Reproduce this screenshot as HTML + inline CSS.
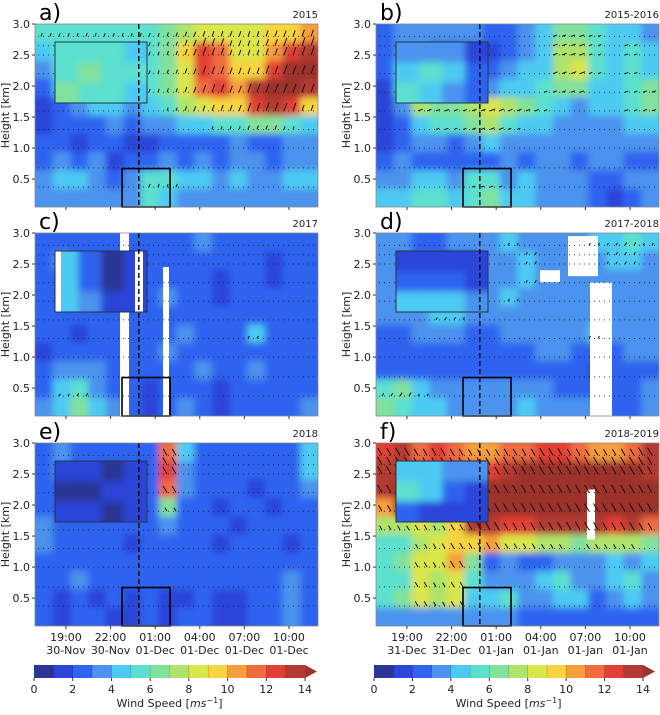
<!DOCTYPE html>
<html><head><meta charset="utf-8"><style>
body{margin:0;background:#fff;width:660px;height:710px;overflow:hidden;font-family:"Liberation Sans","DejaVu Sans",sans-serif}
svg text{font-family:"DejaVu Sans","Liberation Sans",sans-serif}
</style></head><body>
<svg id="fig" width="660" height="710" viewBox="0 0 660 710" xmlns="http://www.w3.org/2000/svg">
<defs><filter id="bl" x="-5%" y="-5%" width="110%" height="110%"><feGaussianBlur stdDeviation="3.5"/></filter></defs>
</svg>
<script>
// ---- data ----
const heightRows=[2.85,2.55,2.25,1.95,1.65,1.35,1.05,0.75,0.45,0.15];
const yTicks=[0.5,1.0,1.5,2.0,2.5,3.0];
const xTickHours=[19,22,25,28,31,34];
const xTickTimes=["19:00","22:00","01:00","04:00","07:00","10:00"];
const datesNov=["30-Nov","30-Nov","01-Dec","01-Dec","01-Dec","01-Dec"];
const datesDec=["31-Dec","31-Dec","01-Jan","01-Jan","01-Jan","01-Jan"];
const barbHeights=[2.8,2.65,2.5,2.2,1.9,1.6,1.3,1.0,0.68,0.37];
const cbTicks=[0,2,4,6,8,10,12,14];
const gridA=[[5,5,5,5,5,5,5,6,7,8,8,8,8,9,9,10],[4,5,5,5,5,5,5,6,9,12,11,8,8,10,12,13],[3,5,6,5,5,5,5,6,8,12,11,9,9,12,14,14],[2,4,5,5,5,5,5,6,8,11,12,10,13,14,14,13],[1,2,3,4,4,3,4,5,7,8,9,9,12,13,12,9],[1,2,2,2,3,2,3,3,4,4,5,5,6,6,5,4],[2,2,1,2,2,1,1,2,2,2,2,3,2,2,3,3],[2,3,2,3,1,2,2,3,2,3,2,3,3,2,3,3],[3,4,4,3,2,3,5,5,4,4,3,4,3,3,4,4],[3,3,3,3,3,3,5,4,3,3,3,3,3,3,3,3]];
const gridB=[[2,3,3,3,3,3,2,2,3,4,6,6,5,4,4,3],[2,3,3,2,2,1,1,2,3,4,7,7,5,4,5,4],[2,4,5,4,3,2,2,3,4,4,7,8,5,4,5,4],[1,4,6,5,3,3,3,4,4,5,6,6,4,4,5,6],[1,3,7,6,6,7,8,7,6,5,4,3,4,4,5,6],[1,2,4,5,5,6,7,5,4,4,3,3,3,3,4,4],[1,2,3,3,2,3,4,3,3,3,3,3,3,3,3,3],[2,3,2,2,2,2,2,3,2,3,3,2,3,3,2,2],[3,3,4,4,3,5,5,3,4,3,3,3,2,2,3,3],[4,4,5,5,4,5,6,4,4,3,3,3,2,1,2,3]];
const gridC=[[2,2,2,2,2,2,2,2,2,3,2,2,2,2,2,2],[2,3,2,2,2,1,2,2,2,2,2,2,2,1,2,2],[2,2,3,2,1,1,2,2,2,2,1,2,2,1,2,2],[2,2,2,2,2,2,2,3,2,2,1,2,2,2,2,2],[2,2,2,2,2,2,2,2,2,2,2,2,2,2,2,2],[2,2,1,2,2,2,2,2,3,2,2,2,4,2,2,2],[1,2,2,2,2,2,2,3,2,2,2,2,2,2,2,2],[2,3,3,3,2,2,2,2,2,3,2,2,3,2,2,2],[2,4,5,3,2,2,1,2,2,2,1,2,2,2,2,2],[3,4,6,4,3,2,1,2,3,2,1,2,2,2,2,3]];
const gridD=[[3,3,2,2,3,3,3,4,3,3,3,3,4,4,5,4],[3,3,2,2,2,2,3,3,4,3,3,3,3,4,4,3],[3,3,2,2,2,3,3,3,4,3,3,3,3,3,3,3],[3,3,3,3,3,3,3,4,3,3,3,3,3,3,3,3],[3,3,3,4,4,3,3,3,3,3,3,3,3,3,3,3],[2,2,3,3,3,2,2,3,3,3,3,3,4,3,3,3],[2,2,2,2,2,2,2,2,2,3,3,2,2,2,3,3],[2,2,2,2,2,2,2,2,2,2,2,2,1,2,2,2],[5,6,4,3,3,3,3,3,3,3,2,2,2,2,2,3],[6,5,4,4,3,3,3,3,4,3,3,3,3,2,2,3]];
const gridE=[[2,3,2,2,2,2,2,11,4,2,2,2,2,2,2,4],[2,3,2,2,2,2,2,12,3,2,2,2,2,2,2,4],[2,2,2,2,2,2,2,11,3,2,2,2,1,2,2,3],[2,2,2,2,2,2,2,6,2,2,1,2,2,1,2,2],[3,2,2,2,2,2,2,3,2,2,2,1,2,2,2,2],[3,2,2,2,2,1,2,2,2,2,1,2,2,2,1,2],[2,2,2,2,2,2,2,2,2,2,2,2,2,2,2,2],[2,2,3,2,2,2,2,2,2,2,2,2,2,2,3,2],[2,1,2,1,2,1,2,1,1,2,1,1,2,2,3,2],[2,1,2,2,1,1,2,1,2,2,1,1,2,2,3,2]];
const gridF=[[12,13,11,12,11,10,10,11,11,12,12,11,10,10,11,13],[13,13,12,12,12,12,12,13,14,14,14,14,14,14,14,13],[13,14,14,14,14,14,14,14,14,14,14,14,14,14,14,14],[10,14,14,14,14,14,14,14,14,14,14,14,14,14,14,14],[7,7,8,7,9,13,13,12,12,13,13,13,13,12,13,11],[5,5,7,8,9,9,10,8,8,7,7,6,7,7,7,6],[5,6,8,8,10,6,2,3,2,2,3,3,3,4,3,4],[5,5,8,7,8,5,3,3,3,4,5,3,3,4,5,3],[5,6,8,7,8,4,4,5,3,3,4,4,2,3,4,3],[3,3,3,3,3,3,3,3,2,2,2,2,2,2,2,2]];
const insetA=[[5,5,5,4],[5,6,5,5],[6,5,5,4]];
const insetB=[[3,3,3,1],[4,5,4,2],[5,4,3,2]];
const insetC=[[4,2,0,1],[4,2,0,1],[4,3,1,1]];
const insetD=[[1,1,1,1],[2,2,2,1],[4,4,4,3]];
const insetE=[[1,1,0,1],[0,0,1,1],[1,1,0,1]];
const insetF=[[4,4,3,3],[5,4,2,1],[2,1,1,1]];
const labels=["a)","b)","c)","d)","e)","f)"];
const years=["2015","2015-2016","2017","2017-2018","2018","2018-2019"];
const colors=["#2a3596","#2b45d8","#2f63f0","#4b93ee","#4ecaf2","#5be0cf","#82e19c","#aee36c","#dbe64c","#f8d43e","#f79e3c","#ef6c40","#e23f36","#b33b33","#9c3229"];
// ---- layout ----
const svg=document.getElementById('fig');const NS="http://www.w3.org/2000/svg";
function mk(tag,attrs,parent){const e=document.createElementNS(NS,tag);for(const k in attrs)e.setAttribute(k,attrs[k]);(parent||svg).appendChild(e);return e;}
const panelsX=[35,376],panelsY=[24,233,443],PW=283,PH=183;
const T0=16.92,T1=35.95,H0=0.05,H1=3.0;
const grids=[gridA,gridB,gridC,gridD,gridE,gridF];
const insets=[insetA,insetB,insetC,insetD,insetE,insetF];
const dirs=[-70,-20,-60,-60,-120,-120];
const barbMin=[5,5,4,4,5,7];
function col(v){return colors[Math.max(0,Math.min(14,Math.floor(v)))];}
for(let p=0;p<6;p++){
  const px=panelsX[p%2],py=panelsY[Math.floor(p/2)];
  const xs=t=>px+(t-T0)/(T1-T0)*PW, ys=h=>py+(H1-h)/(H1-H0)*PH;
  const g=mk('g',{});
  
  const cid='cl'+p;const cp=mk('clipPath',{id:cid},g);mk('rect',{x:px,y:py,width:PW,height:PH},cp);
  const field=mk('g',{'clip-path':'url(#'+cid+')'},g);
  const fb=mk('g',{filter:'url(#bl)'},field);
  const grid=grids[p];const nc=grid[0].length,nr=grid.length;
  const cw=PW/nc,rh=PH/nr;
  for(let r=0;r<nr;r++)for(let c=0;c<nc;c++){
    const x0=px+c*cw-(c==0?12:0),y0=py+r*rh-(r==0?12:0);
    const w=cw+1+(c==0||c==nc-1?12:0),h=rh+1+(r==0||r==nr-1?12:0);
    const cell=mk('rect',{x:x0,y:y0,width:w,height:h,fill:col(grid[r][c])},fb);
    
  }
  if(p==2){mk('rect',{x:120,y:py,width:9,height:PH,fill:'#fff'},field);mk('rect',{x:163,y:ys(2.45),width:6,height:PH,fill:'#fff'},field);}
  if(p==3){mk('rect',{x:590,y:ys(2.2),width:22,height:PH,fill:'#fff'},field);mk('rect',{x:568,y:ys(2.95),width:30,height:40,fill:'#fff'},field);mk('rect',{x:540,y:ys(2.4),width:20,height:12,fill:'#fff'},field);}
  if(p==5){mk('rect',{x:587,y:ys(2.25),width:8,height:50,fill:'#fff'},field);}
  const ang=dirs[p]*Math.PI/180;
  barbHeights.forEach(hb=>{
    const y=ys(hb);
    mk('line',{x1:px+3,y1:y,x2:px+PW-3,y2:y,stroke:'#111','stroke-width':1,'stroke-dasharray':'1 4',opacity:0.8},field);
    for(let x=px+6;x<px+PW;x+=9){
      const c=Math.min(nc-1,Math.floor((x-px)/cw)),r=Math.min(nr-1,Math.floor((y-py)/rh));
      const v=grid[r][c];if(v<barbMin[p])continue;const L=Math.min(9,v*0.7);
      mk('line',{x1:x,y1:y,x2:x+L*Math.cos(ang),y2:y+L*Math.sin(ang),stroke:'#111','stroke-width':1},field);
    }
  });
  const ix=px+20,iy=py+18,iw=92,ih=61;const ig=insets[p];
  const icp=mk('clipPath',{id:'ic'+p},g);mk('rect',{x:ix,y:iy,width:iw,height:ih},icp);
  const ib=mk('g',{'clip-path':'url(#ic'+p+')'},g);const ibb=mk('g',{filter:'url(#bl)'},ib);
  for(let r=0;r<3;r++)for(let c=0;c<4;c++)mk('rect',{x:ix+c*iw/4-(c==0?8:0),y:iy+r*ih/3-(r==0?8:0),width:iw/4+1+(c==0||c==3?8:0),height:ih/3+1+(r==0||r==2?8:0),fill:col(ig[r][c])},ibb);
  if(p==2){mk('rect',{x:ix,y:iy,width:6,height:ih,fill:'#fff'},ib);mk('rect',{x:ix+80,y:iy,width:8,height:ih,fill:'#fff'},ib);}
  const inset=mk('rect',{x:ix,y:iy,width:iw,height:ih,fill:'none',stroke:'#234',"stroke-width":1},g);
  
  mk('line',{x1:xs(23.9),y1:py,x2:xs(23.9),y2:py+PH,stroke:'#000','stroke-width':1.4,'stroke-dasharray':'5 3'},g);
  const sb=mk('rect',{x:xs(22.77),y:ys(0.67),width:xs(26.0)-xs(22.77),height:ys(0.05)-ys(0.67),fill:'none',stroke:'#000','stroke-width':1.6},g);
  
  mk('rect',{x:px,y:py,width:PW,height:PH,fill:'none',stroke:'#888','stroke-width':0.8},g);
  yTicks.forEach(t=>{const y=ys(t);mk('line',{x1:px-3,y1:y,x2:px,y2:y,stroke:'#333'},g);
    const tx=mk('text',{x:px-5,y:y+4,'font-size':11,'text-anchor':'end',fill:'#222'},g);tx.textContent=t.toFixed(1);});
  const yl=mk('text',{x:0,y:0,'font-size':11,'text-anchor':'middle',fill:'#222',transform:`translate(${px-26},${py+PH/2}) rotate(-90)`},g);yl.textContent='Height [km]';
  
  xTickHours.forEach((h,i)=>{const x=xs(h);mk('line',{x1:x,y1:py+PH,x2:x,y2:py+PH+3,stroke:'#333'},g);
    if(p>=4){const a=mk('text',{x:x,y:py+PH+15,'font-size':11,'text-anchor':'middle',fill:'#222'},g);a.textContent=xTickTimes[i];
      const b=mk('text',{x:x,y:py+PH+28,'font-size':11,'text-anchor':'middle',fill:'#222'},g);b.textContent=(p==4?datesNov:datesDec)[i];}});
  const lb=mk('text',{x:px+4,y:py-4,'font-size':22,fill:'#000'},g);lb.textContent=labels[p];
  
  const yr=mk('text',{x:px+PW,y:py-6,'font-size':10,'text-anchor':'end',fill:'#222'},g);yr.textContent=years[p];
  
}
[[34,305],[374,643]].forEach(([x0,x1],k)=>{
  const g=mk('g',{});
  const w=(x1-x0)/14,y=665,h=13;
  for(let i=0;i<14;i++)mk('rect',{x:x0+i*w,y:y,width:w+0.5,height:h,fill:colors[i]},g);
  mk('polygon',{points:`${x1},${y} ${x1+12},${y+h/2} ${x1},${y+h}`,fill:colors[14]},g);
  for(let i=1;i<14;i++)mk('line',{x1:x0+i*w,y1:y,x2:x0+i*w,y2:y+h,stroke:'rgba(0,0,0,0.25)','stroke-width':0.6},g);
  cbTicks.forEach(t=>{const x=x0+t*w;mk('line',{x1:x,y1:y+h,x2:x,y2:y+h+3,stroke:'#333'},g);
    const tx=mk('text',{x:x,y:y+h+15,'font-size':11,'text-anchor':'middle',fill:'#222'},g);tx.textContent=t;});
  const tt=mk('text',{x:(x0+x1)/2,y:707,'font-size':11,'text-anchor':'middle',fill:'#222'},g);
  tt.innerHTML='Wind Speed [<tspan font-style="italic">ms</tspan><tspan dy="-4" font-size="8">−1</tspan><tspan dy="4">]</tspan>';
  
});
</script>
</body></html>
